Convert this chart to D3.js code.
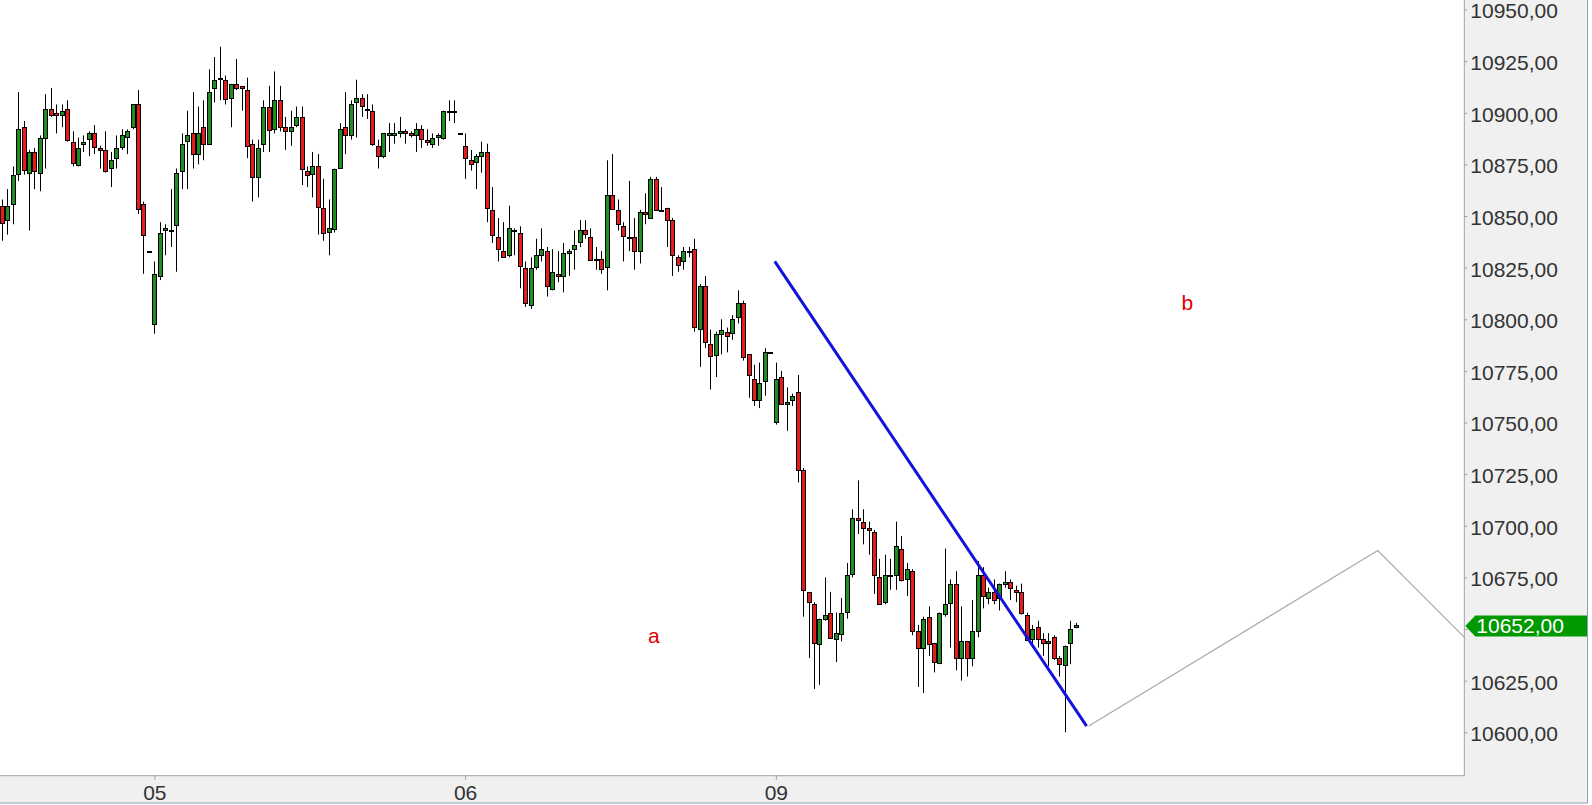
<!DOCTYPE html>
<html>
<head>
<meta charset="utf-8">
<script src="https://cdn.jsdelivr.net/npm/d3@7"></script>
<style>
  html, body { margin: 0; padding: 0; background: #fff; }
  svg { display: block; font-family: "Liberation Sans", Arial, sans-serif; }
</style>
</head>
<body>
<div id="chart"></div>
<script>
// 15 min bars, 57 per session; tail of day 04, then 05, 06 and 09
const dayLabels = ["05", "06", "09"];
const dayStarts = [28, 85, 142]; // bar index of the first bar of each day

const open = [
  10855, 10848, 10856, 10870, 10893, 10871, 10881, 10871, 10888, 10902,
  10900, 10899, 10902, 10886, 10875, 10885, 10887, 10890, 10883, 10882,
  10873, 10878, 10883, 10888, 10893, 10904, 10856, 10833, 10798, 10821,
  10843, 10843, 10846, 10872, 10886, 10890, 10880, 10893, 10885, 10912,
  10917, 10916, 10907, 10914, 10913, 10911, 10885, 10869, 10885, 10903,
  10892, 10906, 10893, 10891, 10894, 10898, 10872, 10870, 10874, 10854,
  10842, 10844, 10873, 10893, 10889, 10905, 10907, 10902, 10901, 10884,
  10879, 10889, 10889, 10890, 10891, 10890, 10889, 10892, 10887, 10885,
  10888, 10888, 10901, 10901, 10890, 10884, 10877, 10876, 10879, 10881,
  10853, 10840, 10833, 10831, 10843, 10842, 10825, 10807, 10825, 10831,
  10833, 10815, 10822, 10821, 10832, 10834, 10837, 10843, 10840, 10829,
  10829, 10825, 10860, 10853, 10845, 10840, 10840, 10833, 10852, 10849,
  10868, 10853, 10854, 10848, 10830, 10828, 10833, 10834, 10795, 10816,
  10788, 10783, 10793, 10794, 10793, 10801, 10808, 10783, 10771, 10761,
  10770, 10784, 10750, 10772, 10759, 10761, 10765, 10727, 10668, 10662,
  10643, 10655, 10658, 10645, 10648, 10658, 10677, 10704, 10702, 10699,
  10697, 10675, 10663, 10676, 10676, 10689, 10674, 10678, 10649, 10641,
  10656, 10643, 10634, 10657, 10663, 10672, 10636, 10644, 10636, 10649,
  10676, 10665, 10668, 10665, 10672, 10673, 10669, 10668, 10657, 10645,
  10651, 10645, 10643, 10646, 10636, 10633, 10643, 10651
];
const high = [
  10858, 10863, 10874, 10910, 10896, 10882, 10883, 10889, 10909, 10912,
  10904, 10904, 10906, 10891, 10888, 10889, 10891, 10894, 10884, 10891,
  10881, 10889, 10892, 10892, 10904, 10911, 10857, 10833, 10828, 10847,
  10846, 10863, 10873, 10890, 10901, 10910, 10903, 10906, 10921, 10927,
  10932, 10918, 10914, 10926, 10913, 10917, 10887, 10887, 10906, 10913,
  10920, 10913, 10898, 10901, 10903, 10903, 10874, 10881, 10880, 10868,
  10858, 10873, 10895, 10910, 10906, 10916, 10909, 10909, 10904, 10887,
  10890, 10895, 10895, 10898, 10892, 10891, 10895, 10894, 10892, 10890,
  10890, 10901, 10906, 10906, 10890, 10890, 10882, 10880, 10886, 10885,
  10864, 10849, 10847, 10855, 10844, 10845, 10828, 10830, 10839, 10844,
  10835, 10834, 10833, 10837, 10834, 10843, 10848, 10848, 10844, 10835,
  10833, 10877, 10880, 10858, 10847, 10867, 10849, 10853, 10861, 10869,
  10869, 10864, 10854, 10849, 10831, 10835, 10835, 10839, 10817, 10821,
  10795, 10794, 10800, 10796, 10802, 10814, 10809, 10783, 10778, 10779,
  10786, 10784, 10779, 10775, 10767, 10764, 10773, 10728, 10668, 10663,
  10655, 10675, 10668, 10658, 10665, 10682, 10708, 10722, 10708, 10702,
  10698, 10684, 10686, 10684, 10702, 10695, 10682, 10679, 10652, 10656,
  10661, 10643, 10658, 10689, 10674, 10678, 10661, 10644, 10664, 10683,
  10680, 10670, 10674, 10672, 10678, 10674, 10671, 10672, 10658, 10652,
  10654, 10648, 10648, 10647, 10637, 10642, 10654, 10653
];
const low = [
  10838, 10841, 10846, 10867, 10870, 10843, 10863, 10862, 10873, 10898,
  10890, 10893, 10886, 10874, 10874, 10881, 10879, 10880, 10873, 10871,
  10864, 10873, 10882, 10880, 10892, 10851, 10822, 10833, 10793, 10819,
  10831, 10835, 10823, 10863, 10863, 10873, 10875, 10877, 10885, 10905,
  10906, 10904, 10893, 10911, 10901, 10878, 10857, 10859, 10881, 10881,
  10890, 10891, 10882, 10884, 10893, 10865, 10864, 10859, 10841, 10838,
  10831, 10842, 10873, 10880, 10887, 10888, 10898, 10897, 10884, 10873,
  10878, 10881, 10885, 10888, 10885, 10888, 10881, 10883, 10884, 10883,
  10884, 10887, 10896, 10895, 10890, 10868, 10872, 10863, 10871, 10847,
  10837, 10828, 10830, 10830, 10831, 10815, 10806, 10805, 10824, 10828,
  10811, 10814, 10818, 10813, 10821, 10824, 10835, 10839, 10829, 10824,
  10822, 10814, 10853, 10843, 10828, 10833, 10824, 10827, 10846, 10849,
  10853, 10852, 10835, 10821, 10823, 10824, 10830, 10794, 10777, 10786,
  10766, 10772, 10783, 10784, 10790, 10798, 10780, 10762, 10758, 10757,
  10763, 10784, 10749, 10759, 10746, 10758, 10721, 10656, 10636, 10621,
  10623, 10654, 10646, 10634, 10644, 10655, 10675, 10696, 10691, 10686,
  10667, 10662, 10662, 10669, 10669, 10673, 10666, 10647, 10622, 10619,
  10637, 10629, 10633, 10656, 10641, 10630, 10625, 10627, 10632, 10646,
  10660, 10662, 10662, 10659, 10670, 10664, 10663, 10657, 10645, 10641,
  10641, 10637, 10632, 10635, 10627, 10600, 10633, 10651
];
const close = [
  10847, 10855, 10870, 10892, 10872, 10881, 10872, 10888, 10902, 10899,
  10899, 10901, 10887, 10876, 10883, 10886, 10890, 10883, 10882, 10872,
  10877, 10883, 10889, 10891, 10904, 10853, 10841, 10833, 10822, 10842,
  10844, 10843, 10871, 10885, 10889, 10880, 10890, 10885, 10910, 10916,
  10917, 10907, 10914, 10912, 10912, 10884, 10869, 10883, 10903, 10892,
  10906, 10893, 10891, 10893, 10898, 10873, 10870, 10874, 10854, 10842,
  10844, 10873, 10892, 10889, 10904, 10907, 10903, 10902, 10885, 10879,
  10890, 10890, 10890, 10891, 10890, 10889, 10892, 10887, 10886, 10888,
  10889, 10901, 10901, 10901, 10890, 10878, 10875, 10879, 10881, 10854,
  10841, 10834, 10830, 10844, 10843, 10826, 10808, 10825, 10831, 10834,
  10816, 10823, 10821, 10832, 10833, 10836, 10843, 10841, 10829, 10829,
  10824, 10860, 10853, 10846, 10840, 10840, 10833, 10852, 10851, 10868,
  10853, 10853, 10848, 10831, 10826, 10833, 10833, 10796, 10816, 10789,
  10782, 10793, 10795, 10792, 10800, 10808, 10782, 10773, 10761, 10769,
  10784, 10784, 10771, 10759, 10760, 10763, 10727, 10669, 10663, 10643,
  10655, 10657, 10646, 10648, 10658, 10676, 10704, 10703, 10699, 10698,
  10676, 10662, 10676, 10676, 10690, 10674, 10679, 10649, 10641, 10655,
  10643, 10634, 10658, 10662, 10672, 10636, 10644, 10636, 10649, 10676,
  10666, 10668, 10664, 10672, 10673, 10670, 10668, 10658, 10645, 10650,
  10645, 10643, 10644, 10636, 10633, 10642, 10650, 10652
];

const lastPrice = 10652;
const priceTicks = d3.range(10600, 10951, 25);

// drawn annotations, as [bar index, price]
const trendLine = [[141.8, 10828], [199.0, 10603]];
const projection = [[199.4, 10603], [252.4, 10688], [268.3, 10646]];
const waveText = ["a", "b"];
const waveIdx = [119.6, 217.5];
const wavePrice = [10643, 10804.5];

const width = 1592, height = 805;
const plotW = 1464.3, plotH = 775.7;   // white plotting area
const frameW = 1588, frameH = 803.5;   // grey panel with the axes

const green = "#1e8f1e", red = "#e41c1c";

const x = d3.scaleLinear().domain([0, 197]).range([1.7, 1075.7]);
const y = d3.scaleLinear().domain([10600, 10950]).range([732.3, 9.5]);

const de = d3.formatLocale({ decimal: ",", thousands: ".", grouping: [3], currency: ["", " €"] });
const fmt = de.format(".2f");

const svg = d3.select("#chart").append("svg")
  .attr("width", width)
  .attr("height", height);

svg.append("rect").attr("width", width).attr("height", height).attr("fill", "#fff");

// panel + outer frame (only right and bottom edges show)
svg.append("rect")
  .attr("width", frameW).attr("height", frameH)
  .attr("fill", "#f0f0f0");
svg.append("path")
  .attr("d", `M${frameW - 0.5},0V${frameH - 0.5}H0`)
  .attr("fill", "none")
  .attr("stroke", "#8e9fb5");

svg.append("rect")
  .attr("width", plotW).attr("height", plotH)
  .attr("fill", "#fff");

svg.append("clipPath").attr("id", "plot-clip")
  .append("rect").attr("width", plotW).attr("height", plotH);

const plot = svg.append("g").attr("clip-path", "url(#plot-clip)");

const bars = open.map((o, i) => ({ i, o, h: high[i], l: low[i], c: close[i] }));

const cx = (d) => Math.round(x(d.i)) + 0.5;

// wicks
plot.append("g")
  .attr("stroke", "#000")
  .attr("stroke-width", 1)
  .selectAll("line")
  .data(bars)
  .join("line")
  .attr("x1", cx).attr("x2", cx)
  .attr("y1", (d) => y(d.h))
  .attr("y2", (d) => y(d.l));

// bodies
plot.append("g")
  .attr("stroke", "#000")
  .attr("stroke-width", 1)
  .selectAll("rect")
  .data(bars)
  .join("rect")
  .attr("x", (d) => cx(d) - 2)
  .attr("width", 4)
  .attr("y", (d) => Math.round(y(Math.max(d.o, d.c))) + 0.5)
  .attr("height", (d) => Math.max(1, Math.round(Math.abs(y(d.o) - y(d.c)))))
  .attr("fill", (d) => (d.c > d.o ? green : d.c < d.o ? red : "#000"));

const line = d3.line()
  .x((d) => x(d[0]))
  .y((d) => y(d[1]));

plot.append("path")
  .datum(projection)
  .attr("d", line)
  .attr("fill", "none")
  .attr("stroke", "#aaaaaa")
  .attr("stroke-width", 1.2);

plot.append("path")
  .datum(trendLine)
  .attr("d", line)
  .attr("fill", "none")
  .attr("stroke", "#1212dc")
  .attr("stroke-width", 3);

plot.selectAll(".wave")
  .data(waveText)
  .join("text")
  .attr("class", "wave")
  .attr("x", (d, k) => x(waveIdx[k]))
  .attr("y", (d, k) => y(wavePrice[k]))
  .attr("text-anchor", "middle")
  .attr("font-size", 21)
  .attr("fill", "#e00000")
  .text((d) => d);

// plot borders
svg.append("path")
  .attr("d", `M${plotW},0V${plotH}H0`)
  .attr("fill", "none")
  .attr("stroke", "#a0a0a0");

// price axis; the label sitting under the last price marker is hidden
const yAxis = svg.append("g")
  .attr("transform", `translate(${plotW},0)`)
  .call(d3.axisRight(y).tickValues(priceTicks).tickSize(3).tickPadding(3)
    .tickFormat((d) => (Math.abs(d - lastPrice) < 12 ? "" : fmt(d))));
yAxis.select(".domain").remove();
yAxis.selectAll(".tick line").attr("stroke", "#a0a0a0");
yAxis.selectAll(".tick text")
  .attr("font-size", 21)
  .attr("font-family", "'Liberation Sans', Arial, sans-serif")
  .attr("fill", "#333")
  .attr("dy", "0.4em");

// day axis
const xAxis = svg.append("g")
  .attr("transform", `translate(0,${plotH})`)
  .call(d3.axisBottom(x).tickValues(dayStarts).tickSize(4).tickPadding(5)
    .tickFormat((d, k) => dayLabels[k]));
xAxis.select(".domain").remove();
xAxis.selectAll(".tick line").attr("stroke", "#a0a0a0");
xAxis.selectAll(".tick text")
  .attr("font-size", 21)
  .attr("font-family", "'Liberation Sans', Arial, sans-serif")
  .attr("fill", "#333");

// last price marker
const ly = y(lastPrice) + 1;
const marker = svg.append("g");
marker.append("path")
  .attr("d", `M${plotW + 1},${ly} L${plotW + 11},${ly - 10.5} H${frameW - 1} V${ly + 10.5} H${plotW + 11} Z`)
  .attr("fill", "#009a00");
marker.append("text")
  .attr("x", plotW + 12)
  .attr("y", ly)
  .attr("dy", "0.35em")
  .attr("font-size", 21)
  .attr("fill", "#fff")
  .text(fmt(lastPrice));
</script>
</body>
</html>
